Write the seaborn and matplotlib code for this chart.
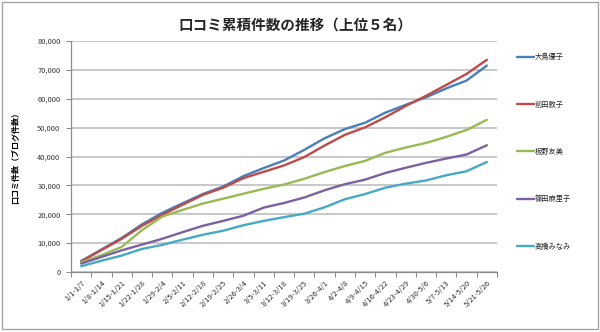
import matplotlib
matplotlib.use("Agg")
import matplotlib.pyplot as plt
import seaborn as sns
import pandas as pd
from matplotlib.patches import Rectangle
from matplotlib.ticker import FuncFormatter, FixedLocator

weeks = ["1/1-1/7", "1/8-1/14", "1/15-1/21", "1/22-1/28", "1/29-2/4", "2/5-2/11",
         "2/12-2/18", "2/19-2/25", "2/26-3/4", "3/5-3/11", "3/12-3/18", "3/19-3/25",
         "3/26-4/1", "4/2-4/8", "4/9-4/15", "4/16-4/22", "4/23-4/29", "4/30-5/6",
         "5/7-5/13", "5/14-5/20", "5/21-5/26"]

oshima = [3800, 7800, 11800, 16500, 20500, 23800, 27000, 29600, 33200, 36000, 38600,
          42300, 46300, 49500, 51700, 55200, 57900, 60500, 63600, 66300, 71500]
maeda = [3600, 7600, 11500, 16000, 19800, 23300, 26700, 29200, 32500, 34700, 36900,
         39800, 43800, 47500, 50100, 53600, 57500, 61000, 64800, 68600, 73500]
itano = [3300, 5800, 8700, 14500, 19200, 21500, 23700, 25400, 27100, 28800, 30300,
         32300, 34600, 36700, 38500, 41300, 43100, 44700, 46800, 49200, 52700]
shinoda = [2900, 5200, 7500, 9500, 11500, 13800, 16000, 17700, 19500, 22300, 23900,
           25800, 28300, 30400, 32000, 34300, 36100, 37800, 39300, 40700, 43900]
takahashi = [2000, 3900, 5700, 8000, 9400, 11200, 12900, 14300, 16200, 17700, 19000,
             20200, 22400, 25200, 27000, 29200, 30600, 31700, 33500, 34900, 38100]

names = ["大島優子", "前田敦子", "板野友美", "篠田麻里子", "高橋みなみ"]
series = [oshima, maeda, itano, shinoda, takahashi]
colors = ["#4A7EBB", "#BE4B48", "#98B954", "#7D60A0", "#46AAC5"]

title = "口コミ累積件数の推移（上位５名）"
ylabel = "口コミ件数（ブログ件数）"
yticks = [0, 10000, 20000, 30000, 40000, 50000, 60000, 70000, 80000]

rows = []
for n, vals in zip(names, series):
    for i, (w, v) in enumerate(zip(weeks, vals)):
        rows.append({"idx": i, "week": w, "name": n, "value": v})
df = pd.DataFrame(rows)

sns.set_theme(style="white")
plt.rcParams['font.family'] = ['Noto Sans CJK JP', 'DejaVu Sans']

fig = plt.figure(figsize=(6.0, 3.32), dpi=100)
fig.patch.set_facecolor("white")
fig.add_artist(Rectangle((0.004, 0.008), 0.992, 0.985, transform=fig.transFigure,
                         fill=False, edgecolor="#A6A6A6", linewidth=1.0))

ax = fig.add_axes([71/600, 60/332, 426/600, 231/332])
sns.lineplot(data=df, x="idx", y="value", hue="name", hue_order=names,
             palette=colors, linewidth=1.7, ax=ax, legend=False, sort=False)

ax.set_xlim(-0.5, len(weeks) - 0.5)
ax.set_ylim(0, 80000)
ax.set_yticks(yticks)
ax.yaxis.set_major_formatter(FuncFormatter(lambda v, p: f"{int(v):,}"))
ax.grid(axis="y", color="#BFBFBF", linewidth=1.2)
ax.set_axisbelow(True)

ax.set_xticks(range(len(weeks)))
ax.set_xticklabels(weeks, rotation=45, ha="right", rotation_mode="anchor",
                   fontsize=5.5, color="#333333")
ax.xaxis.set_minor_locator(FixedLocator([i - 0.5 for i in range(len(weeks) + 1)]))
ax.tick_params(axis="x", which="major", length=0, pad=5)
ax.tick_params(axis="x", which="minor", length=3.5, width=0.8, color="#8C8C8C", direction="out")
ax.tick_params(axis="y", which="major", length=3.5, width=0.8, color="#8C8C8C",
               direction="out", labelsize=5.4, labelcolor="#333333", pad=4)
ax.tick_params(axis="x", bottom=True, which="both")
ax.tick_params(axis="y", left=True)

for s in ["top", "right"]:
    ax.spines[s].set_visible(False)
for s in ["left", "bottom"]:
    ax.spines[s].set_color("#8C8C8C")
    ax.spines[s].set_linewidth(0.9)

ax.set_xlabel("")
ax.set_ylabel(ylabel, fontsize=5.8, fontweight="bold", labelpad=12, color="black")

fig.text(0.492, 0.925, title, ha="center", va="center", fontsize=10.5, fontweight="bold")

handles = ax.get_lines()[:len(names)]
leg = ax.legend(handles, names, loc="upper left", bbox_to_anchor=(1.04, 0.96),
                frameon=False, fontsize=5.2, labelspacing=5.45, handlelength=2.3,
                handletextpad=0.15, borderaxespad=0)

fig.savefig("out.png", dpi=100, facecolor="white")
